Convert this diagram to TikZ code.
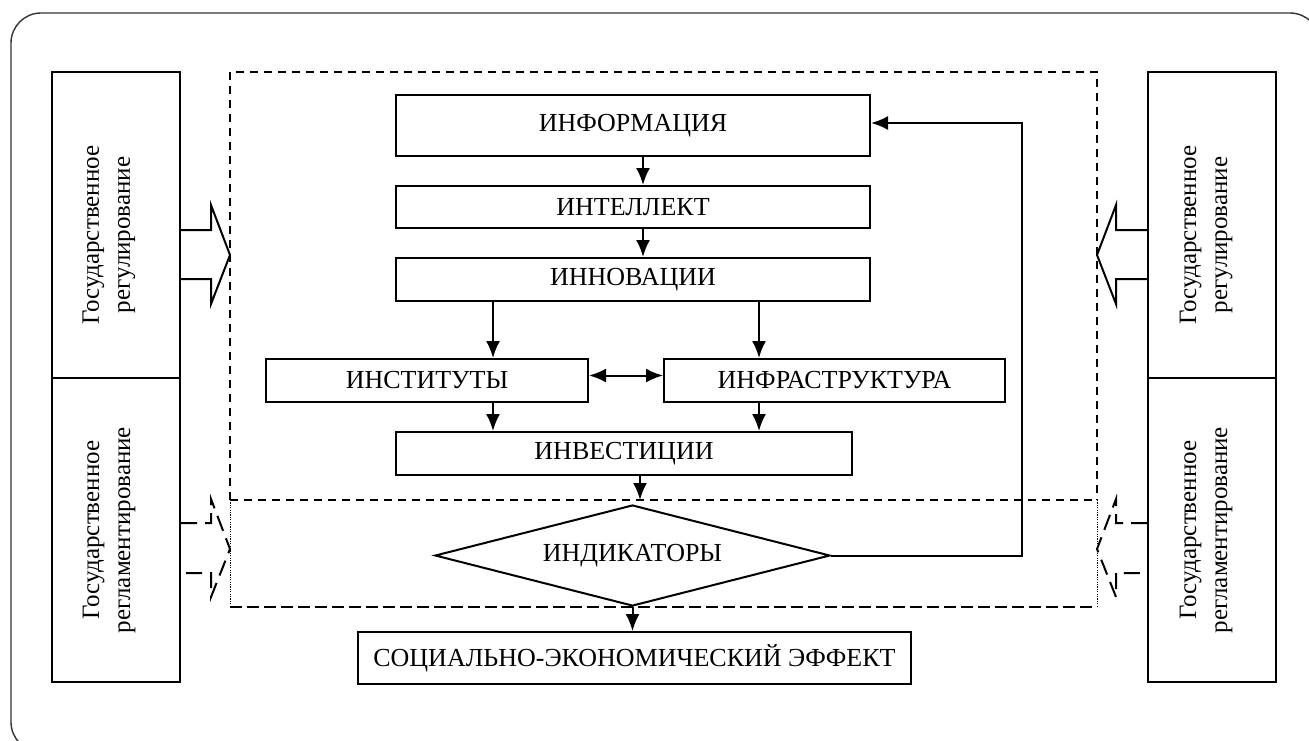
\documentclass[tikz,border=0pt]{standalone}
\usepackage{fontspec}
\setmainfont{Liberation Serif}
\usetikzlibrary{shapes.geometric,arrows.meta}
\begin{document}
\begin{tikzpicture}[x=0.5pt,y=-0.5pt]
	% Styles
	\tikzstyle{fleche}=[-{Latex[length=8.5pt,width=7pt]},line width=1pt]
	\tikzstyle{doublefleche}=[{Latex[length=8.5pt,width=7pt]}-{Latex[length=8.5pt,width=7pt]},line width=1pt]
	\tikzstyle{bloc}=[draw,line width=1pt,inner sep=0pt,font=\fontsize{13}{15}\selectfont]
	\tikzstyle{cote}=[draw,line width=1pt,inner sep=0pt,minimum width=64pt]
	\tikzstyle{vertical}=[rotate=90,align=center,font=\fontsize{12.5}{15.5}\selectfont]
	\tikzstyle{cadre}=[line width=0.7pt,dash pattern=on 4pt off 3pt]
	\tikzstyle{cadrebas}=[line width=0.7pt,dash pattern=on 6pt off 2.5pt]
	\tikzstyle{pointille}=[line width=0.5pt,dash pattern=on 0.6pt off 0.6pt]
	\tikzstyle{creuse}=[line width=1pt,line join=miter]
	\tikzstyle{creusetiret}=[line width=1pt,dash pattern=on 8pt off 4pt]
	% Dimensions
	\def\Haut{72}
	\def\Milieu{378}
	\def\Bas{682}
	%
	\clip (0,0) rectangle (1309,740);
	\draw[line width=0.7pt,black!80,rounded corners=15pt] (11,13) rectangle (1320,752);
	% Cadres en tirets
	\draw[cadre] (230,500) -- (230,\Haut) -- (1097,\Haut) -- (1097,500);
	\draw[cadre] (230,500) -- (1097,500);
	\draw[cadrebas] (230,607) -- (1097,607);
	\draw[pointille] (230,500) -- (230,607);
	\draw[pointille] (1097,500) -- (1097,607);
	% Noeuds
	\node[bloc,minimum width=237pt,minimum height=30.5pt] (info) at (633,125.5) {ИНФОРМАЦИЯ};
	\node[bloc,minimum width=237pt,minimum height=21pt] (intel) at (633,207) {ИНТЕЛЛЕКТ};
	\node[bloc,minimum width=237pt,minimum height=21.5pt] (innov) at (633,279.5) {ИННОВАЦИИ};
	\node[bloc,minimum width=161pt,minimum height=21.5pt] (inst) at (427,380.5) {ИНСТИТУТЫ};
	\node[bloc,minimum width=170.5pt,minimum height=21.5pt] (infra) at (834.5,380.5) {ИНФРАСТРУКТУРА};
	\node[bloc,minimum width=228pt,minimum height=21.5pt] (invest) at (624,453.5) {ИНВЕСТИЦИИ};
	\node[bloc,shape=diamond,aspect=3.9,minimum width=197.5pt,minimum height=50.5pt] (indic) at (632.5,555.5) {ИНДИКАТОРЫ};
	\node[bloc,minimum width=276.5pt,minimum height=26pt] (effet) at (634.5,658) {СОЦИАЛЬНО-ЭКОНОМИЧЕСКИЙ ЭФФЕКТ};
	%
	\node[cote,minimum height=153pt] (regG) at (116,225) {};
	\node[cote,minimum height=152pt] (reglG) at (116,530) {};
	\node[cote,minimum height=153pt] (regD) at (1212,225) {};
	\node[cote,minimum height=152pt] (reglD) at (1212,530) {};
	\node[vertical] (tregG) at (109,235) {Государственное\\регулирование};
	\node[vertical] (treglG) at (109,530) {Государственное\\регламентирование};
	\node[vertical] (tregD) at (1206,235) {Государственное\\регулирование};
	\node[vertical] (treglD) at (1206,530) {Государственное\\регламентирование};
	% Fleches creuses
	\draw[creuse] (regG.east |- 0,230) -- (211,230) -- (211,205) -- (230,255) -- (211,304) -- (211,279) -- (regG.east |- 0,279);
	\draw[creuse] (regD.west |- 0,230) -- (1116,230) -- (1116,205) -- (1097,255) -- (1116,304) -- (1116,279) -- (regD.west |- 0,279);
	\draw[creusetiret] (reglG.east |- 0,523) -- (211,523) -- (211,499) -- (230,549) -- (211,597) -- (211,573) -- (reglG.east |- 0,573);
	\draw[creusetiret] (reglD.west |- 0,523) -- (1116,523) -- (1116,499) -- (1097,549) -- (1116,597) -- (1116,573) -- (reglD.west |- 0,573);
	% Arcs
	\coordinate (axeA) at (643,0);
	\coordinate (axeB) at (493,0);
	\coordinate (axeC) at (759,0);
	\coordinate (axeD) at (640,0);
	\coordinate (retour) at (1022,123);
	\draw[fleche] (info.south -| axeA) -- (intel.north -| axeA);
	\draw[fleche] (intel.south -| axeA) -- (innov.north -| axeA);
	\draw[fleche] (innov.south -| axeB) -- (inst.north -| axeB);
	\draw[fleche] (innov.south -| axeC) -- (infra.north -| axeC);
	\draw[doublefleche] ([yshift=2.5pt]inst.east) -- ([yshift=2.5pt]infra.west);
	\draw[fleche] (inst.south -| axeB) -- (invest.north -| axeB);
	\draw[fleche] (infra.south -| axeC) -- (invest.north -| axeC);
	\draw[fleche] (invest.south -| axeD) -- ([yshift=2pt]indic.north -| axeD);
	\draw[fleche] (indic.south) -- (indic.south |- effet.north);
	\draw[fleche] (indic.east) -| (retour) -- (info.east |- retour);
\end{tikzpicture}
\end{document}
